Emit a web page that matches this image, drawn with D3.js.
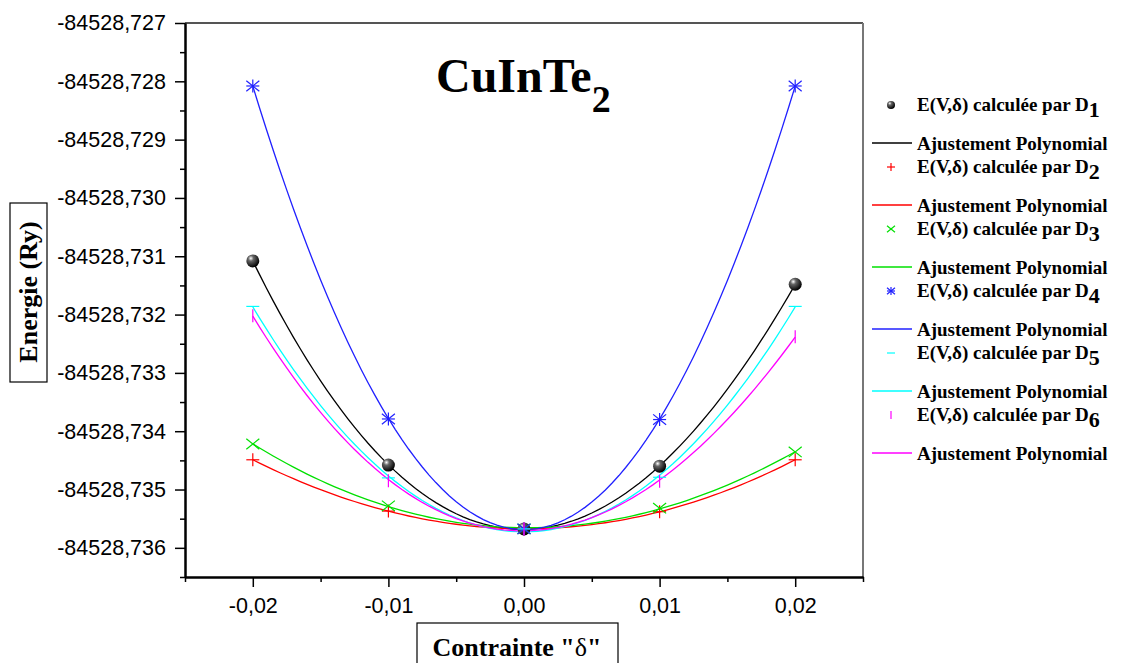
<!DOCTYPE html>
<html>
<head>
<meta charset="utf-8">
<script src="https://cdn.jsdelivr.net/npm/d3@7/dist/d3.min.js"></script>
<style>
  body { margin: 0; background: #fff; }
  svg { display: block; }
</style>
</head>
<body>
<script>
// strain values
const strain = [-0.02, -0.01, 0.00, 0.01, 0.02];

// energies (Ry) computed with each distortion
const eD1 = [-84528.73108, -84528.73458, -84528.735675, -84528.73460, -84528.73148];
const eD2 = [-84528.73449, -84528.73537, -84528.735675, -84528.73538, -84528.73449];
const eD3 = [-84528.73422, -84528.73528, -84528.735675, -84528.73532, -84528.734355];
const eD4 = [-84528.72808, -84528.73379, -84528.735675, -84528.73380, -84528.72808];
const eD5 = [-84528.73186, -84528.73480, -84528.735675, -84528.73479, -84528.73186];
const eD6 = [-84528.73202, -84528.73485, -84528.735675, -84528.73486, -84528.73238];

const yTicks = [-84528.736, -84528.735, -84528.734, -84528.733, -84528.732,
                -84528.731, -84528.730, -84528.729, -84528.728, -84528.727];
const xTicks = [-0.02, -0.01, 0.00, 0.01, 0.02];

const series = [
  { name: "1", values: eD1, color: "#000000", symbol: "ball" },
  { name: "2", values: eD2, color: "#ff0000", symbol: "plus" },
  { name: "3", values: eD3, color: "#00e000", symbol: "cross" },
  { name: "4", values: eD4, color: "#2020ff", symbol: "star" },
  { name: "5", values: eD5, color: "#00ffff", symbol: "hbar" },
  { name: "6", values: eD6, color: "#ff00ff", symbol: "vbar" }
];

const width = 1122, height = 663;
const margin = { top: 23, right: 259, bottom: 86, left: 185 };
const serif = "Liberation Serif, Times New Roman, serif";

const svg = d3.select("body").append("svg")
  .attr("width", width)
  .attr("height", height);

const x = d3.scaleLinear()
  .domain([-0.025, 0.025])
  .range([margin.left, width - margin.right]);

const y = d3.scaleLinear()
  .domain([-84528.7365, -84528.727])
  .range([height - margin.bottom, margin.top]);

const fmtComma = (d, n) => d3.format(`.${n}f`)(d).replace(".", ",").replace("−", "-");

// least squares polynomial fit (degree 3)
function polyfit(xs, ys, deg) {
  const base = ys[2];
  const xsS = xs.map(v => v * 100);
  const ysS = ys.map(v => (v - base) * 1000);
  const n = deg + 1;
  const A = Array.from({ length: n }, () => new Array(n + 1).fill(0));
  for (let r = 0; r < n; r++) {
    for (let c = 0; c < n; c++) {
      A[r][c] = d3.sum(xsS, v => Math.pow(v, r + c));
    }
    A[r][n] = d3.sum(xsS, (v, i) => ysS[i] * Math.pow(v, r));
  }
  for (let i = 0; i < n; i++) {
    let p = i;
    for (let k = i + 1; k < n; k++) if (Math.abs(A[k][i]) > Math.abs(A[p][i])) p = k;
    [A[i], A[p]] = [A[p], A[i]];
    for (let k = i + 1; k < n; k++) {
      const f = A[k][i] / A[i][i];
      for (let j = i; j <= n; j++) A[k][j] -= f * A[i][j];
    }
  }
  const coef = new Array(n).fill(0);
  for (let i = n - 1; i >= 0; i--) {
    let s = A[i][n];
    for (let j = i + 1; j < n; j++) s -= A[i][j] * coef[j];
    coef[i] = s / A[i][i];
  }
  return xv => base + d3.sum(coef, (c, i) => c * Math.pow(xv * 100, i)) / 1000;
}

// sphere gradient
const defs = svg.append("defs");
const grad = defs.append("radialGradient").attr("id", "ball")
  .attr("cx", "35%").attr("cy", "30%").attr("r", "70%");
grad.append("stop").attr("offset", "0%").attr("stop-color", "#ffffff");
grad.append("stop").attr("offset", "30%").attr("stop-color", "#666666");
grad.append("stop").attr("offset", "100%").attr("stop-color", "#000000");

function drawSymbol(g, type, color, cx, cy, s) {
  const h = s / 2;
  if (type === "ball") {
    g.append("circle").attr("cx", cx).attr("cy", cy).attr("r", h)
      .attr("fill", "url(#ball)");
    return;
  }
  const segs = [];
  if (type === "plus" || type === "star") segs.push([-h, 0, h, 0], [0, -h, 0, h]);
  if (type === "cross" || type === "star") segs.push([-h, -h * 0.8, h, h * 0.8], [-h, h * 0.8, h, -h * 0.8]);
  if (type === "hbar") segs.push([-h, 0, h, 0]);
  if (type === "vbar") segs.push([0, -h, 0, h]);
  segs.forEach(sg => {
    g.append("line")
      .attr("x1", cx + sg[0]).attr("y1", cy + sg[1])
      .attr("x2", cx + sg[2]).attr("y2", cy + sg[3])
      .attr("stroke", color).attr("stroke-width", 1.2);
  });
}

// frame (top and right)
svg.append("line")
  .attr("x1", margin.left).attr("x2", width - margin.right)
  .attr("y1", margin.top).attr("y2", margin.top)
  .attr("stroke", "#555").attr("stroke-width", 2);
svg.append("line")
  .attr("x1", width - margin.right).attr("x2", width - margin.right)
  .attr("y1", margin.top).attr("y2", height - margin.bottom)
  .attr("stroke", "#777").attr("stroke-width", 2);

// fitted curves
const sample = d3.range(-0.02, 0.02001, 0.0005);
const plot = svg.append("g");
series.forEach(s => {
  const f = polyfit(strain, s.values, 3);
  plot.append("path")
    .datum(sample)
    .attr("fill", "none")
    .attr("stroke", s.color)
    .attr("stroke-width", 1.3)
    .attr("d", d3.line().x(d => x(d)).y(d => y(f(d))));
});

// data markers
series.forEach(s => {
  const g = plot.append("g");
  s.values.forEach((v, i) => {
    drawSymbol(g, s.symbol, s.color, x(strain[i]), y(v), 13);
  });
});

// axes
const yAxis = svg.append("g")
  .attr("transform", `translate(${margin.left},0)`)
  .call(d3.axisLeft(y).tickValues(yTicks).tickSize(10).tickSizeOuter(0)
    .tickFormat(d => fmtComma(d, 3)));
const yMinor = svg.append("g")
  .attr("transform", `translate(${margin.left},0)`)
  .call(d3.axisLeft(y).tickValues(yTicks.map(t => t - 0.0005)).tickSize(5).tickSizeOuter(0).tickFormat(""));

const xAxis = svg.append("g")
  .attr("transform", `translate(0,${height - margin.bottom})`)
  .call(d3.axisBottom(x).tickValues(xTicks).tickSize(10).tickSizeOuter(0)
    .tickFormat(d => fmtComma(d, 2)));
const xMinor = svg.append("g")
  .attr("transform", `translate(0,${height - margin.bottom})`)
  .call(d3.axisBottom(x).tickValues([-0.025, -0.015, -0.005, 0.005, 0.015, 0.025]).tickSize(5).tickSizeOuter(0).tickFormat(""));

[yAxis, yMinor, xAxis, xMinor].forEach(a => {
  a.select(".domain").attr("stroke", "#000").attr("stroke-width", 2);
  a.selectAll(".tick line").attr("stroke", "#000").attr("stroke-width", 1.5);
  a.selectAll("text").attr("font-family", "Liberation Sans, Arial, sans-serif")
    .attr("font-size", 21.5).attr("fill", "#000");
});
yAxis.selectAll("text").attr("x", -19);
xAxis.selectAll("text").attr("y", 21);

// title
const title = svg.append("text")
  .attr("x", 436).attr("y", 92)
  .attr("font-family", serif)
  .attr("font-weight", "bold").attr("font-size", 48);
title.append("tspan").text("CuInTe");
title.append("tspan").attr("dy", 20).attr("font-size", 38).text("2");

// y label with box
svg.append("rect")
  .attr("x", 10).attr("y", 203).attr("width", 37).attr("height", 179)
  .attr("fill", "none").attr("stroke", "#000").attr("stroke-width", 1.2);
svg.append("text")
  .attr("transform", "translate(37,292) rotate(-90)")
  .attr("text-anchor", "middle")
  .attr("font-family", serif)
  .attr("font-weight", "bold").attr("font-size", 26)
  .text("Energie (Ry)");

// x label with box
svg.append("rect")
  .attr("x", 417).attr("y", 623).attr("width", 201).attr("height", 48)
  .attr("fill", "none").attr("stroke", "#000").attr("stroke-width", 1.2);
const xl = svg.append("text")
  .attr("x", 517).attr("y", 656)
  .attr("text-anchor", "middle")
  .attr("font-family", serif)
  .attr("font-weight", "bold").attr("font-size", 26);
xl.append("tspan").text("Contrainte \"");
xl.append("tspan").attr("font-weight", "normal").text("δ");
xl.append("tspan").text("\"");

// legend
const legend = svg.append("g");
series.forEach((s, i) => {
  const yM = 111 + i * 62;
  const yL = yM + 39;
  drawSymbol(legend, s.symbol, s.color, 891, yM - 6, 8);
  const t = legend.append("text")
    .attr("x", 917).attr("y", yM)
    .attr("font-family", serif)
    .attr("font-weight", "bold").attr("font-size", 19);
  t.append("tspan").text("E(V,δ) calculée par D");
  t.append("tspan").attr("dy", 6).attr("font-size", 22).text(s.name);

  legend.append("line")
    .attr("x1", 872).attr("x2", 912).attr("y1", yL - 7).attr("y2", yL - 7)
    .attr("stroke", s.color).attr("stroke-width", 1.3);
  legend.append("text")
    .attr("x", 917).attr("y", yL)
    .attr("font-family", serif)
    .attr("font-weight", "bold").attr("font-size", 19)
    .text("Ajustement Polynomial");
});
</script>
</body>
</html>
